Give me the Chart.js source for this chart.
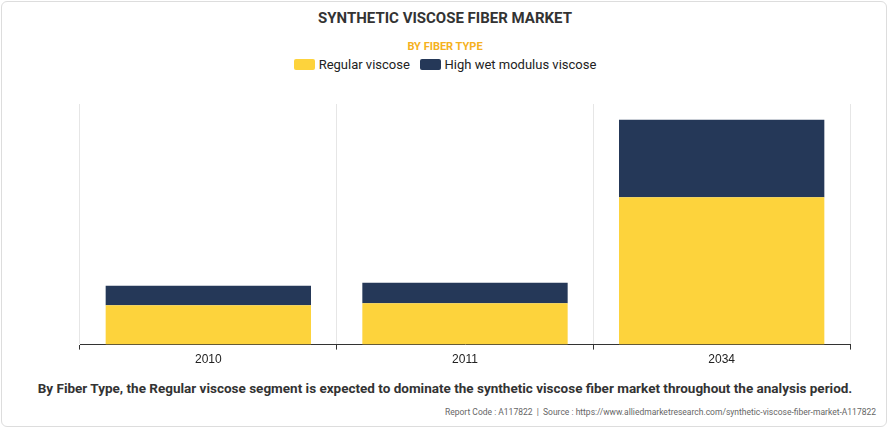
<!DOCTYPE html>
<html><head><meta charset="utf-8">
<script src="https://cdn.jsdelivr.net/npm/chart.js@4/dist/chart.umd.min.js"></script>
<style>
body{margin:0;background:#fff;font-family:Roboto,"Liberation Sans",Arial,sans-serif}
#wrap{position:absolute;left:1px;top:1px;width:886px;height:426px;border:1px solid #ddd;border-radius:6px;box-sizing:border-box}
#title{position:absolute;top:9px;width:100%;text-align:center;font-weight:bold;font-size:15px;color:#333}
#sub{position:absolute;top:40px;width:100%;text-align:center;font-weight:bold;font-size:11px;color:#f5b120}
#leg{position:absolute;top:57px;width:100%;text-align:center;font-size:13px;color:#222}
#leg span.b{display:inline-block;width:21px;height:11px;vertical-align:-1px;margin-right:4px;border-radius:2px}
#cv{position:absolute;left:0;top:95px;width:888px;height:275px}
#foot{position:absolute;top:380px;width:100%;text-align:center;font-weight:bold;font-size:13.5px;color:#333}
#src{position:absolute;top:407px;right:14px;font-size:8.5px;color:#666}
</style></head><body>
<div id="wrap"></div>
<div id="title">SYNTHETIC VISCOSE FIBER MARKET</div>
<div id="sub">BY FIBER TYPE</div>
<div id="leg"><span class="b" style="background:#fdd33c"></span>Regular viscose&nbsp;&nbsp;&nbsp;<span class="b" style="background:#253858"></span>High wet modulus viscose</div>
<div id="cv"><canvas id="c"></canvas></div>
<div id="foot">By Fiber Type, the Regular viscose segment is expected to dominate the synthetic viscose fiber market throughout the analysis period.</div>
<div id="src">Report Code : A117822 &nbsp;|&nbsp; Source : https://www.alliedmarketresearch.com/synthetic-viscose-fiber-market-A117822</div>
<script>
const categories=["2010","2011","2034"];
const regular=[4.0,4.2,15.0];
const highWet=[2.0,2.1,7.9];
new Chart(document.getElementById('c'),{type:'bar',
data:{labels:categories,datasets:[
{label:'Regular viscose',data:regular,backgroundColor:'#fdd33c',barPercentage:0.8,categoryPercentage:1},
{label:'High wet modulus viscose',data:highWet,backgroundColor:'#253858',barPercentage:0.8,categoryPercentage:1}]},
options:{responsive:true,maintainAspectRatio:false,animation:false,
layout:{padding:{left:80,right:38,top:9,bottom:0}},
plugins:{legend:{display:false},tooltip:{enabled:false}},
scales:{x:{stacked:true,grid:{offset:true,color:'#e6e6e6',drawTicks:true,tickLength:5,tickColor:'#333'},border:{color:'#333'},ticks:{color:'#222',font:{size:12}}},
y:{stacked:true,min:0,max:24.5,display:false}}}});
</script>
</body></html>
